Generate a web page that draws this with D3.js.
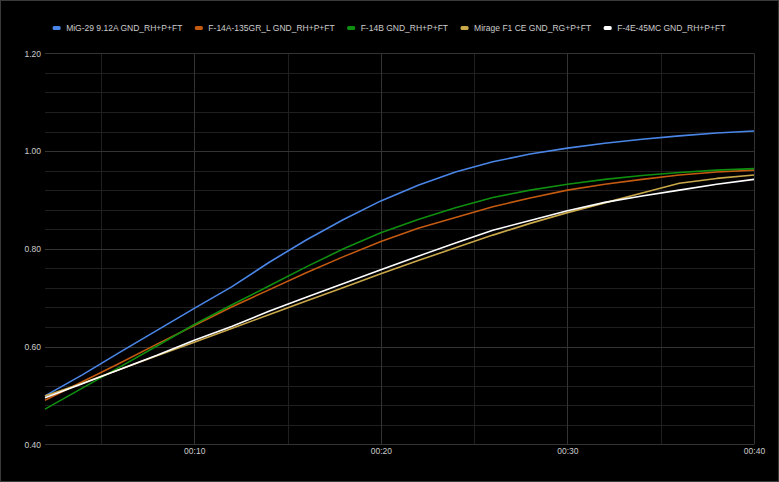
<!DOCTYPE html>
<html>
<head>
<meta charset="utf-8">
<script src="https://cdn.jsdelivr.net/npm/d3@7"></script>
<style>
  html, body { margin: 0; padding: 0; background: #000; }
  svg { display: block; }
  text { font-family: Arial, "Liberation Sans", sans-serif; }
</style>
</head>
<body>
<svg id="chart" width="779" height="482"></svg>
<script>
// ---- data ----
const times = [2, 4, 6, 8, 10, 12, 14, 16, 18, 20, 22, 24, 26, 28, 30, 32, 34, 36, 38, 40];
const seriesNames = [
  "MiG-29 9.12A GND_RH+P+FT",
  "F-14A-135GR_L GND_RH+P+FT",
  "F-14B GND_RH+P+FT",
  "Mirage F1 CE GND_RG+P+FT",
  "F-4E-45MC GND_RH+P+FT"
];
const seriesColors = ["#4a86e8", "#c55a11", "#0f8f0f", "#c9a84a", "#ffffff"];
const mig29   = [0.499, 0.542, 0.588, 0.633, 0.678, 0.722, 0.772, 0.818, 0.860, 0.898, 0.930, 0.957, 0.978, 0.994, 1.006, 1.016, 1.024, 1.031, 1.037, 1.041];
const f14a    = [0.490, 0.528, 0.566, 0.605, 0.643, 0.681, 0.716, 0.751, 0.784, 0.815, 0.842, 0.864, 0.886, 0.904, 0.920, 0.932, 0.942, 0.951, 0.957, 0.961];
const f14b    = [0.472, 0.515, 0.558, 0.601, 0.645, 0.685, 0.724, 0.763, 0.800, 0.833, 0.860, 0.884, 0.905, 0.920, 0.932, 0.942, 0.950, 0.956, 0.961, 0.964];
const mirage  = [0.499, 0.525, 0.553, 0.581, 0.609, 0.637, 0.665, 0.693, 0.721, 0.749, 0.776, 0.802, 0.828, 0.852, 0.874, 0.894, 0.914, 0.934, 0.944, 0.951];
const f4e     = [0.495, 0.524, 0.553, 0.582, 0.613, 0.641, 0.672, 0.701, 0.729, 0.757, 0.785, 0.812, 0.838, 0.858, 0.878, 0.895, 0.908, 0.920, 0.932, 0.942];
const seriesValues = [mig29, f14a, f14b, mirage, f4e];
const yTicks = [0.40, 0.60, 0.80, 1.00, 1.20];
const xTicks = [10, 20, 30, 40];
const xTickLabels = ["00:10", "00:20", "00:30", "00:40"];

// ---- layout ----
const W = 779, H = 482;
const pLeft = 45, pRight = 754, pTop = 53.3, pBottom = 444.3;
const svg = d3.select("#chart");

svg.append("rect").attr("x", 0.5).attr("y", 0.5).attr("width", W - 1).attr("height", H - 1)
  .attr("fill", "#000").attr("stroke", "#3a3a3a").attr("stroke-width", 1);

const x = d3.scaleLinear().domain([2, 40]).range([pLeft, pRight]);
const y = d3.scaleLinear().domain([0.40, 1.20]).range([pBottom, pTop]);

// grid
const g = svg.append("g");
const minorY = d3.range(0.40, 1.2001, 0.04).filter(v => !yTicks.some(t => Math.abs(t - v) < 1e-6));
const minorX = [5, 15, 25, 35];
g.selectAll(".hminor").data(minorY).join("line")
  .attr("x1", pLeft).attr("x2", pRight)
  .attr("y1", d => Math.round(y(d)) + 0.5).attr("y2", d => Math.round(y(d)) + 0.5)
  .attr("stroke", "#1f1f1f").attr("stroke-width", 1);
g.selectAll(".vminor").data(minorX).join("line")
  .attr("y1", pTop).attr("y2", pBottom)
  .attr("x1", d => Math.round(x(d)) + 0.5).attr("x2", d => Math.round(x(d)) + 0.5)
  .attr("stroke", "#1f1f1f").attr("stroke-width", 1);
g.selectAll(".hmajor").data(yTicks).join("line")
  .attr("x1", pLeft).attr("x2", pRight)
  .attr("y1", d => Math.round(y(d)) + 0.5).attr("y2", d => Math.round(y(d)) + 0.5)
  .attr("stroke", "#333").attr("stroke-width", 1);
g.selectAll(".vmajor").data(xTicks).join("line")
  .attr("y1", pTop).attr("y2", pBottom)
  .attr("x1", d => Math.round(x(d)) + 0.5).attr("x2", d => Math.round(x(d)) + 0.5)
  .attr("stroke", "#333").attr("stroke-width", 1);

// axes labels via d3 axes
const yAxis = d3.axisLeft(y).tickValues(yTicks).tickFormat(d3.format(".2f")).tickSize(0).tickPadding(4);
const yg = svg.append("g").attr("transform", `translate(${pLeft},0)`).call(yAxis);
const xAxis = d3.axisBottom(x).tickValues(xTicks).tickFormat((d, i) => xTickLabels[i]).tickSize(0).tickPadding(4);
const xg = svg.append("g").attr("transform", `translate(0,${pBottom})`).call(xAxis);
[yg, xg].forEach(a => {
  a.select(".domain").remove();
  a.selectAll("text").attr("fill", "#cccccc").style("font-size", "8.5px")
    .style("font-family", "Arial, 'Liberation Sans', sans-serif");
});

// lines
const line = d3.line().x((d, i) => x(times[i])).y(d => y(d));
seriesValues.forEach((vals, k) => {
  svg.append("path").datum(vals).attr("d", line)
    .attr("fill", "none").attr("stroke", seriesColors[k]).attr("stroke-width", 1.6)
    .attr("stroke-linejoin", "round");
});

// legend
const lg = svg.append("g");
const items = [];
seriesNames.forEach((name, k) => {
  const it = lg.append("g");
  it.append("rect").attr("x", 0).attr("y", -2).attr("width", 8).attr("height", 4)
    .attr("rx", 1.5).attr("fill", seriesColors[k]);
  const t = it.append("text").attr("x", 13.5).attr("y", 0).attr("dy", "0.35em")
    .attr("fill", "#cccccc").style("font-size", "8.5px").text(name);
  const w = 13.5 + t.node().getComputedTextLength();
  items.push({it, w});
});
const gap = 12.5;
const total = items.reduce((s, o) => s + o.w, 0) + gap * (items.length - 1);
let cx = 389 - total / 2;
items.forEach(o => { o.it.attr("transform", `translate(${cx},28)`); cx += o.w + gap; });
</script>
</body>
</html>
